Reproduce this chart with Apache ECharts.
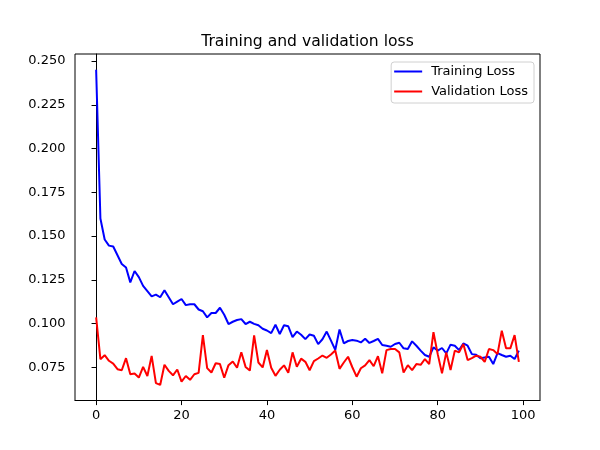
<!DOCTYPE html>
<html>
<head>
<meta charset="utf-8">
<script src="https://cdn.jsdelivr.net/npm/echarts@6/dist/echarts.min.js"></script>
<style>
html,body{margin:0;padding:0;background:#fff;}
#chart{width:600px;height:450px;}
</style>
</head>
<body>
<div id="chart"></div>
<script>
const titleText = "Training and validation loss";
const seriesNames = ["Training Loss", "Validation Loss"];
const trainingLoss = [
0.245,0.160,0.148,0.1445,0.144,0.139,0.134,0.132,0.1235,0.130,
0.1265,0.1215,0.1185,0.1155,0.1165,0.115,0.119,0.115,0.111,0.1125,
0.114,0.1105,0.111,0.111,0.108,0.107,0.1035,0.106,0.106,0.109,
0.105,0.0997,0.101,0.102,0.1025,0.0997,0.101,0.0998,0.099,0.097,
0.096,0.0945,0.0993,0.094,0.099,0.0984,0.0922,0.0954,0.0936,0.0911,
0.0937,0.093,0.0882,0.091,0.0954,0.0902,0.0849,0.0966,0.0887,0.0900,
0.0906,0.0902,0.0892,0.0913,0.0889,0.0900,0.0912,0.0877,0.0873,0.0867,
0.0883,0.0890,0.0858,0.0854,0.0898,0.0873,0.0845,0.0820,0.0810,0.0864,
0.0845,0.0860,0.0829,0.0879,0.0873,0.0848,0.0886,0.0873,0.0825,0.0822,
0.0802,0.0806,0.0810,0.0768,0.0831,0.0820,0.0810,0.0816,0.0797,0.0845
];
const validationLoss = [
0.1035,0.0796,0.0819,0.0787,0.0771,0.0739,0.0733,0.0802,0.0710,0.0714,
0.0691,0.0752,0.0700,0.0815,0.0659,0.0649,0.0764,0.0729,0.0704,0.0737,
0.0668,0.0700,0.0678,0.0710,0.0718,0.0934,0.0745,0.0720,0.0773,0.0768,
0.0690,0.0762,0.0783,0.0747,0.0836,0.0752,0.0731,0.0932,0.0777,0.0749,
0.0848,0.0747,0.0701,0.0736,0.0761,0.0718,0.0835,0.0753,0.0799,0.0781,
0.0733,0.0785,0.0800,0.0817,0.0804,0.0823,0.0846,0.0741,0.0777,0.0810,
0.0750,0.0696,0.0744,0.0761,0.0791,0.0756,0.0813,0.0715,0.0848,0.0854,
0.0854,0.0835,0.0720,0.0762,0.0734,0.0768,0.0764,0.0797,0.0768,0.0950,
0.0825,0.0715,0.0835,0.0734,0.0845,0.0835,0.0883,0.0791,0.0802,0.0816,
0.0810,0.0781,0.0854,0.0848,0.0825,0.0959,0.0858,0.0858,0.0934,0.0781
];
const xTicks = [0, 20, 40, 60, 80, 100];
const yTicks = [0.075, 0.100, 0.125, 0.150, 0.175, 0.200, 0.225, 0.250];

const font = "DejaVu Sans";
const toPairs = arr => arr.map((v, i) => [i, v]);

const chart = echarts.init(document.getElementById('chart'), null, {renderer: 'canvas'});
chart.setOption({
  animation: false,
  backgroundColor: '#ffffff',
  title: {
    text: titleText,
    left: 307.5,
    textAlign: 'center',
    top: 34,
    padding: 0,
    textStyle: {fontFamily: font, fontSize: 15.6, fontWeight: 'normal', color: '#000'}
  },
  legend: {
    orient: 'vertical',
    right: 66,
    top: 62,
    padding: [3, 6, 5, 3],
    itemGap: 7,
    itemWidth: 28,
    itemHeight: 2,
    icon: 'rect',
    backgroundColor: '#ffffff',
    borderColor: '#d0d0d0',
    borderWidth: 1,
    borderRadius: 3,
    textStyle: {fontFamily: font, fontSize: 13, color: '#000', padding: [0, 0, 0, 4]},
    data: seriesNames
  },
  grid: {
    left: 75, right: 60, top: 54, bottom: 49.5,
    show: true, borderColor: '#000', borderWidth: 1, backgroundColor: 'transparent'
  },
  xAxis: {
    type: 'value',
    min: -4.95, max: 103.95,
    splitLine: {show: false},
    axisLine: {show: true, lineStyle: {color: '#000', width: 1}},
    axisTick: {show: true, inside: false, length: 4.6, lineStyle: {color: '#000'}, customValues: xTicks},
    axisLabel: {fontFamily: font, fontSize: 13, color: '#000', margin: 9, customValues: xTicks,
      formatter: v => String(Math.round(v))}
  },
  yAxis: {
    type: 'value',
    min: 0.056, max: 0.254,
    splitLine: {show: false},
    axisLine: {show: true, lineStyle: {color: '#000', width: 1}},
    axisTick: {show: true, inside: false, length: 4.6, lineStyle: {color: '#000'}, customValues: yTicks},
    axisLabel: {fontFamily: font, fontSize: 13, color: '#000', margin: 9.5, customValues: yTicks,
      formatter: v => v.toFixed(3)}
  },
  series: [
    {name: seriesNames[0], type: 'line', data: toPairs(trainingLoss), showSymbol: false, symbol: 'none',
     lineStyle: {color: '#0000ff', width: 2}, itemStyle: {color: '#0000ff'}},
    {name: seriesNames[1], type: 'line', data: toPairs(validationLoss), showSymbol: false, symbol: 'none',
     lineStyle: {color: '#ff0000', width: 2}, itemStyle: {color: '#ff0000'}}
  ]
});
</script>
</body>
</html>
